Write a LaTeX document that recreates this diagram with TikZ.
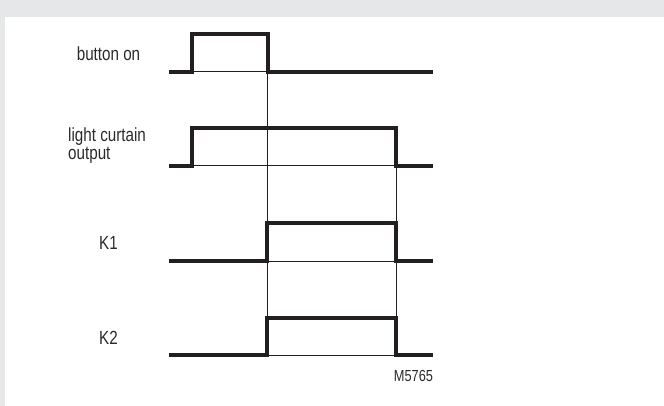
\documentclass[tikz,border=0pt]{standalone}
\usepackage{fontspec}
\setmainfont{Liberation Sans}[FakeStretch=0.8]
\definecolor{framegray}{HTML}{E6E7E8}
\definecolor{ink}{HTML}{231F20}
\definecolor{txt}{HTML}{2B2B2B}
\begin{document}
\begin{tikzpicture}[x=1pt,y=-1pt,
  sig/.style={line width=3.2pt,color=ink,line join=miter},
  guide/.style={line width=1pt,color=ink},
  lbl/.style={inner sep=0pt,text=txt,font=\fontsize{19}{15}\selectfont},
  tag/.style={inner sep=0pt,text=txt,font=\fontsize{16}{15}\selectfont}]
\useasboundingbox (0,0) rectangle (664,406);
\fill[framegray] (0,0) rectangle (664,406);
\fill[white] (5,17) rectangle (664,406);
% guide lines
\draw[guide] (192,72) -- (268,72);
\draw[guide] (192,166) -- (396,166);
\draw[guide] (267,261) -- (396,261);
\draw[guide] (267,355) -- (396,355);
\draw[guide] (267.5,72) -- (267.5,355);
\draw[guide] (396,166) -- (396,355);
% signals
\draw[sig] (169,72) -- (192,72) -- (192,34) -- (268,34) -- (268,72) -- (433,72);
\draw[sig] (169,166) -- (192,166) -- (192,128) -- (396,128) -- (396,166) -- (433,166);
\draw[sig] (169,261) -- (267,261) -- (267,223) -- (396,223) -- (396,261) -- (433,261);
\draw[sig] (169,355) -- (267,355) -- (267,318) -- (396,318) -- (396,355) -- (433,355);
% labels
\node[lbl,anchor=base] (lb) at (108.5,60.7) {button on};
\node[lbl,anchor=west,align=left] (ll) at (68,145.5) {light curtain\\output};
\node[lbl,anchor=base] (lk1) at (108.5,250) {K1};
\node[lbl,anchor=base] (lk2) at (108.5,344.5) {K2};
\node[tag,anchor=base east] (code) at (433.3,381.7) {M5765};
\end{tikzpicture}
\end{document}
